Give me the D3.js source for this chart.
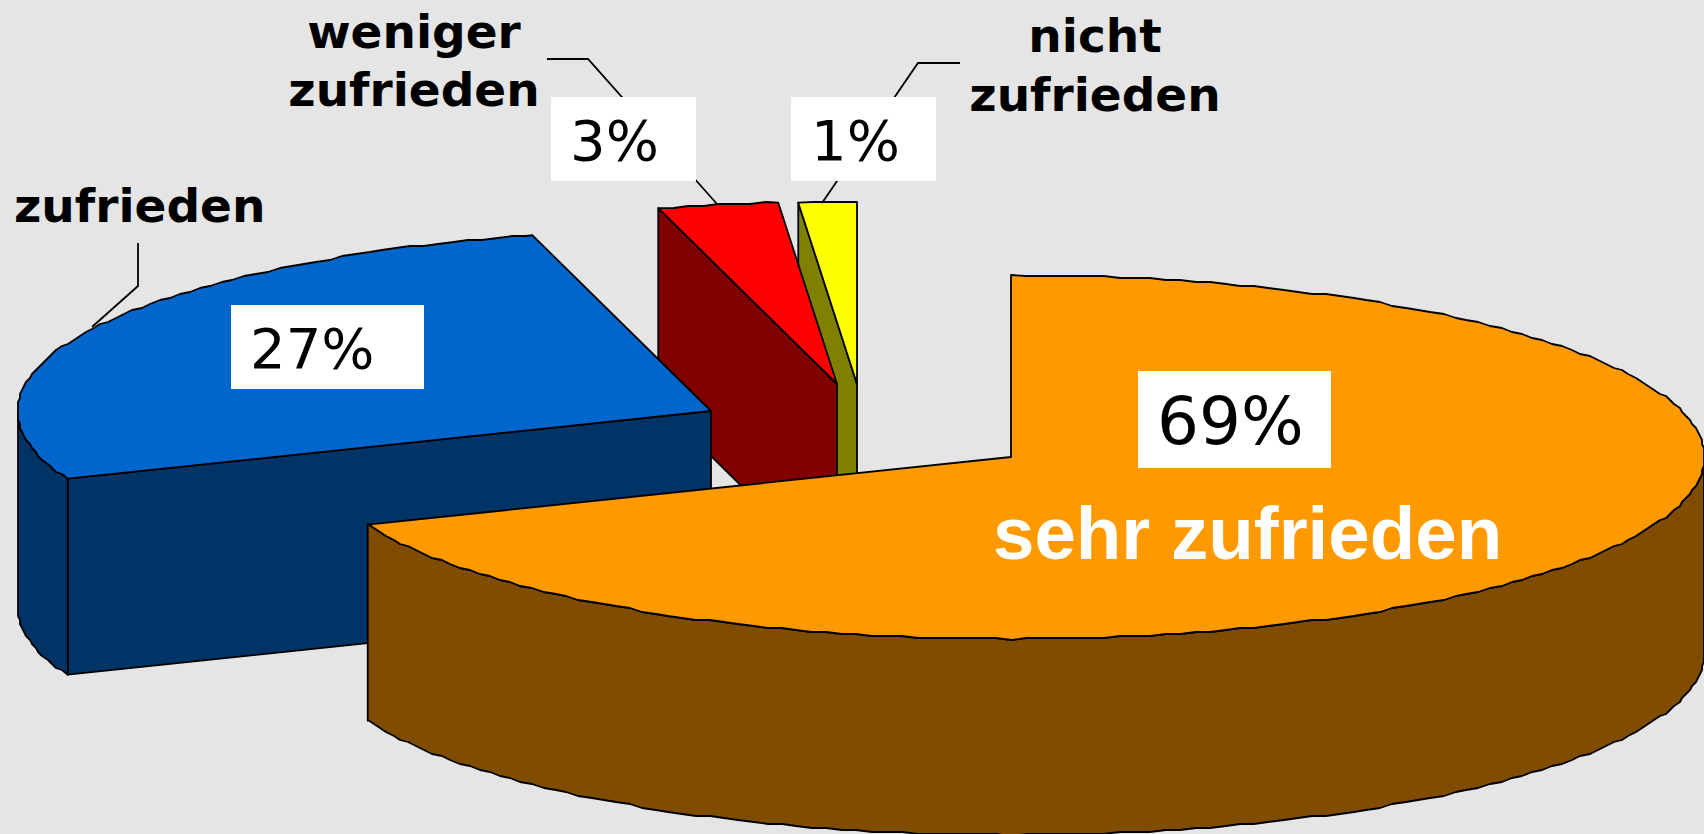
<!DOCTYPE html>
<html>
<head>
<meta charset="utf-8">
<script src="https://cdn.jsdelivr.net/npm/d3@7"></script>
<style>
  html, body { margin: 0; padding: 0; background: #e5e5e5; overflow: hidden; }
  svg { display: block; }
  .cat { font-family: "DejaVu Sans", sans-serif; font-weight: bold; font-size: 47px; fill: #000; }
  .pct { font-family: "DejaVu Sans", sans-serif; fill: #000; }
</style>
</head>
<body>
<svg id="chart"></svg>
<script>
// values read from the slice edges, the printed labels are rounded
const categories = ["sehr zufrieden", "zufrieden", "weniger zufrieden", "nicht zufrieden"];
const values = [68.9, 26.9, 2.8, 1.35];
const pctLabels = ["69%", "27%", "3%", "1%"];
const topColors = ["#ff9900", "#0066cc", "#ff0000", "#ffff00"];
const sideColors = ["#7f4c00", "#003366", "#800000", "#808000"];

const width = 1704, height = 834;
const rx = 693, ry = 182, depth = 196;
const edge = "#000", edgeWidth = 1.8;

// exploded position of each slice
const centres = [[1011, 457], [711, 411], [837, 384], [857, 384]];

const svg = d3.select("#chart").attr("width", width).attr("height", height);

svg.append("rect").attr("width", width).attr("height", height).attr("fill", "#e5e5e5");

const xscale = d3.scaleLinear().domain([-1, 1]).range([-rx, rx]);
const yscale = d3.scaleLinear().domain([-1, 1]).range([-ry, ry]);

const pie = d3.pie().sort(null).value(d => d);
const slices = pie(values);

const line = d3.line();
const stepAngle = Math.PI / 140;
const grid = 2;

// rim of the ellipse, coarse like the original rendering
function rim(c, a0, a1, dy) {
    const angles = d3.range(a0, a1, stepAngle).concat([a1]);
    return angles.map(a => {
        const x = c[0] + xscale(Math.sin(a));
        const y = c[1] + yscale(-Math.cos(a));
        const onEnd = a === a0 || a === a1;
        return [
            onEnd ? x : Math.round(x / grid) * grid,
            (onEnd ? y : Math.round(y / grid) * grid) + dy
        ];
    });
}

function poly(g, pts, fill) {
    g.append("path")
        .attr("d", line(pts) + "Z")
        .attr("fill", fill)
        .attr("stroke", edge)
        .attr("stroke-width", edgeWidth)
        .attr("stroke-linejoin", "round");
}

// back to front
const drawOrder = [3, 2, 1, 0];
drawOrder.forEach(i => {
    const s = slices[i], c = centres[i];
    const g = svg.append("g").attr("class", "slice");

    // cut face on the left of a slice
    if (s.startAngle > Math.PI) {
        const p = [
            c[0] + xscale(Math.sin(s.startAngle)),
            c[1] + yscale(-Math.cos(s.startAngle))
        ];
        poly(g, [p, c, [c[0], c[1] + depth], [p[0], p[1] + depth]], sideColors[i]);
    }

    // outer wall, only the part turned to the viewer
    const a0 = Math.max(s.startAngle, Math.PI / 2);
    const a1 = Math.min(s.endAngle, Math.PI * 1.5);
    if (a1 > a0) {
        const upper = rim(c, a0, a1, 0);
        const lower = rim(c, a0, a1, depth).reverse();
        poly(g, upper.concat(lower), sideColors[i]);
    }

    // top face
    poly(g, [c].concat(rim(c, s.startAngle, s.endAngle, 0)), topColors[i]);
});

// leader lines go under the white boxes
const leaders = [
    [[138, 243], [138, 286], [92, 327]],
    [[547, 59], [588, 59], [717, 204]],
    [[960, 63], [918, 63], [822, 203]]
];
leaders.forEach(pts => {
    svg.append("path")
        .attr("d", line(pts))
        .attr("fill", "none")
        .attr("stroke", edge)
        .attr("stroke-width", 1.8);
});

// white boxes with the percent labels
const boxes = [
    { x: 1138, y: 371, w: 193, h: 97, tx: 1157, ty: 444, size: 66 },
    { x: 231, y: 305, w: 193, h: 84, tx: 250, ty: 368, size: 56 },
    { x: 551, y: 97, w: 145, h: 84, tx: 570, ty: 160, size: 56 },
    { x: 791, y: 97, w: 145, h: 84, tx: 811, ty: 160, size: 56 }
];
boxes.forEach((b, i) => {
    svg.append("rect")
        .attr("x", b.x).attr("y", b.y)
        .attr("width", b.w).attr("height", b.h)
        .attr("fill", "#fff");
    svg.append("text")
        .attr("class", "pct")
        .attr("x", b.tx).attr("y", b.ty)
        .style("font-size", b.size + "px")
        .text(pctLabels[i]);
});

// category names
svg.append("text")
    .attr("x", 993).attr("y", 559)
    .attr("font-family", "'Liberation Sans', Arial, sans-serif")
    .attr("font-weight", "bold")
    .attr("font-size", "74.5px")
    .attr("fill", "#fff")
    .text(categories[0]);

svg.append("text").attr("class", "cat").attr("x", 14).attr("y", 222).text(categories[1]);

const twoLine = [
    { name: categories[2], cx: 414, cx2: 414, y: 48, y2: 106 },
    { name: categories[3], cx: 1095, cx2: 1095, y: 52, y2: 111 }
];
twoLine.forEach(d => {
    const parts = d.name.split(" ");
    svg.append("text").attr("class", "cat").attr("text-anchor", "middle")
        .attr("x", d.cx).attr("y", d.y).text(parts[0]);
    svg.append("text").attr("class", "cat").attr("text-anchor", "middle")
        .attr("x", d.cx2).attr("y", d.y2).text(parts[1]);
});
</script>
</body>
</html>
